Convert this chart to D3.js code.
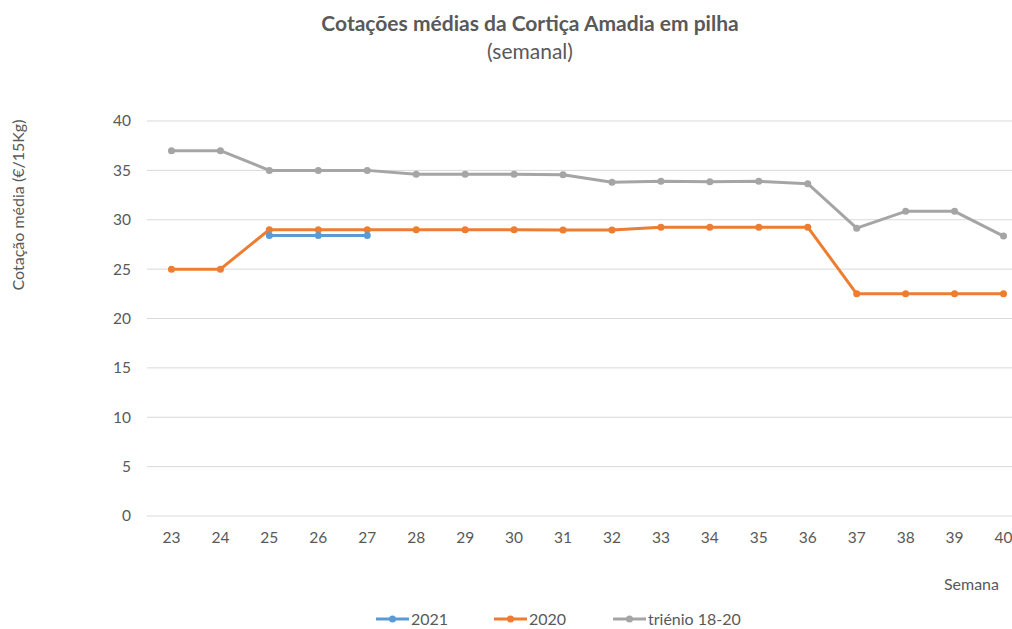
<!DOCTYPE html>
<html>
<head>
<meta charset="utf-8">
<script src="https://cdn.jsdelivr.net/npm/d3@7"></script>
<style>
  body { margin: 0; background: #fff; }
  svg { font-family: Lato, "Open Sans", sans-serif; }
</style>
</head>
<body>
<div class="container"></div>
<script>
var semanas = [23, 24, 25, 26, 27, 28, 29, 30, 31, 32, 33, 34, 35, 36, 37, 38, 39, 40];
var v2021 = [null, null, 28.4, 28.4, 28.4, null, null, null, null, null, null, null, null, null, null, null, null, null];
var v2020 = [25, 25, 29, 29, 29, 29, 29, 29, 28.95, 28.95, 29.25, 29.25, 29.25, 29.25, 22.5, 22.5, 22.5, 22.5];
var vTrienio = [37, 37, 35, 35, 35, 34.6, 34.6, 34.6, 34.55, 33.8, 33.9, 33.85, 33.9, 33.65, 29.15, 30.85, 30.85, 28.35];
var yTicks = [0, 5, 10, 15, 20, 25, 30, 35, 40];

var series = [
  { name: '2021', values: v2021, color: '#5B9BD5' },
  { name: '2020', values: v2020, color: '#ED7D31' },
  { name: 'triénio 18-20', values: vTrienio, color: '#A5A5A5' }
];

const width = 1012, height = 629;
const plotLeft = 147, plotRight = 1028, plotTop = 121, plotBottom = 516;

const svg = d3.select('.container')
  .append('svg')
  .attr('width', width)
  .attr('height', height);

const x = d3.scalePoint()
  .domain(semanas)
  .range([plotLeft, plotRight])
  .padding(0.5);

const y = d3.scaleLinear()
  .domain([0, 40])
  .range([plotBottom, plotTop]);

// gridlines
svg.append('g')
  .selectAll('line')
  .data(yTicks)
  .join('line')
  .attr('x1', plotLeft)
  .attr('x2', plotRight)
  .attr('y1', d => y(d))
  .attr('y2', d => y(d))
  .attr('stroke', '#d9d9d9')
  .attr('stroke-width', 1);

// y tick labels
svg.append('g')
  .selectAll('text')
  .data(yTicks)
  .join('text')
  .attr('x', 131)
  .attr('y', d => y(d))
  .attr('dy', '0.35em')
  .attr('text-anchor', 'end')
  .attr('font-size', 15.5)
  .attr('fill', '#595959')
  .text(d => d);

// x tick labels
svg.append('g')
  .selectAll('text')
  .data(semanas)
  .join('text')
  .attr('x', d => x(d))
  .attr('y', 538)
  .attr('dy', '0.35em')
  .attr('text-anchor', 'middle')
  .attr('font-size', 15.5)
  .attr('fill', '#595959')
  .text(d => d);

// titles
svg.append('text')
  .attr('x', 530).attr('y', 31)
  .attr('text-anchor', 'middle')
  .attr('font-size', 21).attr('font-weight', 'bold')
  .attr('fill', '#595959')
  .text('Cotações médias da Cortiça Amadia em pilha');
svg.append('text')
  .attr('x', 530).attr('y', 59)
  .attr('text-anchor', 'middle')
  .attr('font-size', 21)
  .attr('fill', '#595959')
  .text('(semanal)');

svg.append('text')
  .attr('transform', 'translate(24,205) rotate(-90)')
  .attr('text-anchor', 'middle')
  .attr('font-size', 16)
  .attr('fill', '#595959')
  .text('Cotação média (€/15Kg)');

svg.append('text')
  .attr('x', 999).attr('y', 590)
  .attr('text-anchor', 'end')
  .attr('font-size', 16)
  .attr('fill', '#595959')
  .text('Semana');

// lines
const line = d3.line()
  .defined(d => d.v != null)
  .x(d => x(d.s))
  .y(d => y(d.v));

series.slice().reverse().forEach(function (s) {
  const pts = semanas.map((w, i) => ({ s: w, v: s.values[i] }));
  const g = svg.append('g');
  g.append('path')
    .datum(pts)
    .attr('fill', 'none')
    .attr('stroke', s.color)
    .attr('stroke-width', 3)
    .attr('stroke-linejoin', 'round')
    .attr('d', line);
  g.selectAll('circle')
    .data(pts.filter(d => d.v != null))
    .join('circle')
    .attr('cx', d => x(d.s))
    .attr('cy', d => y(d.v))
    .attr('r', 3.5)
    .attr('fill', s.color);
});

// legend
const legX = [376, 494, 613];
const leg = svg.append('g')
  .selectAll('g')
  .data(series)
  .join('g')
  .attr('transform', (d, i) => 'translate(' + legX[i] + ',619)');
leg.append('line')
  .attr('x1', 0).attr('x2', 33)
  .attr('stroke', d => d.color)
  .attr('stroke-width', 3);
leg.append('circle')
  .attr('cx', 16.5).attr('r', 3.5)
  .attr('fill', d => d.color);
leg.append('text')
  .attr('x', 35)
  .attr('dy', '0.35em')
  .attr('font-size', 16)
  .attr('fill', '#595959')
  .text(d => d.name);
</script>
</body>
</html>
